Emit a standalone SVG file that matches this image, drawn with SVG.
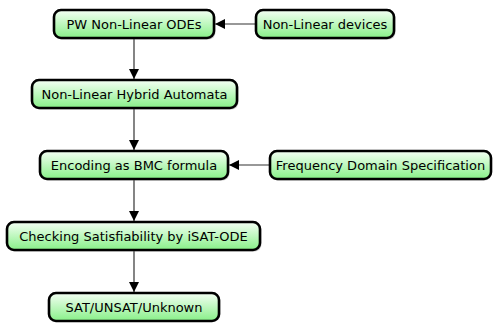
<svg xmlns="http://www.w3.org/2000/svg" width="494" height="323" viewBox="0 0 494 323">
<defs>
<linearGradient id="g" x1="0" y1="0" x2="0" y2="1">
<stop offset="0" stop-color="#f4fff4"/>
<stop offset="1" stop-color="#88f088"/>
</linearGradient>
<marker id="ah" viewBox="0 0 10 10" refX="10" refY="5" markerWidth="10" markerHeight="10" markerUnits="userSpaceOnUse" orient="auto">
<path d="M0,0 L10,5 L0,10 z" fill="#000"/>
</marker>
</defs>
<style>
.box{fill:url(#g);stroke:#000;stroke-width:2.6}
.sh{fill:#999;opacity:0.5}
.t{font-family:"DejaVu Sans",sans-serif;font-size:13px;fill:#000;text-anchor:middle;dominant-baseline:central}
.c{stroke:#333;stroke-width:1.2;fill:none;marker-end:url(#ah)}
</style>
<g id="connectors">
<line class="c" x1="256" y1="24" x2="215" y2="24"/>
<line class="c" x1="134" y1="38" x2="134" y2="79"/>
<line class="c" x1="134" y1="108" x2="134" y2="150"/>
<line class="c" x1="270" y1="165" x2="229" y2="165"/>
<line class="c" x1="134" y1="179" x2="134" y2="221"/>
<line class="c" x1="134" y1="250" x2="134" y2="292"/>
</g>
<g id="n1"><rect class="sh" x="55.5" y="11.5" width="160" height="28" rx="7"/><rect class="box" x="54" y="10" width="160" height="28" rx="7"/><text class="t" x="134" y="24">PW Non-Linear ODEs</text></g>
<g id="n2"><rect class="sh" x="257.5" y="11.5" width="138" height="28" rx="7"/><rect class="box" x="256" y="10" width="138" height="28" rx="7"/><text class="t" x="325" y="24">Non-Linear devices</text></g>
<g id="n3"><rect class="sh" x="33.5" y="81.5" width="205" height="28" rx="7"/><rect class="box" x="32" y="80" width="205" height="28" rx="7"/><text class="t" x="134.5" y="94">Non-Linear Hybrid Automata</text></g>
<g id="n4"><rect class="sh" x="41.5" y="152.5" width="188" height="28" rx="7"/><rect class="box" x="40" y="151" width="188" height="28" rx="7"/><text class="t" x="134" y="165">Encoding as BMC formula</text></g>
<g id="n5"><rect class="sh" x="271.5" y="152.5" width="220" height="28" rx="7"/><rect class="box" x="270" y="151" width="221" height="28" rx="7"/><text class="t" x="380.5" y="165">Frequency Domain Specification</text></g>
<g id="n6"><rect class="sh" x="8.5" y="223.5" width="253" height="28" rx="7"/><rect class="box" x="7" y="222" width="253" height="28" rx="7"/><text class="t" x="133.5" y="236">Checking Satisfiability by iSAT-ODE</text></g>
<g id="n7"><rect class="sh" x="50.5" y="294.5" width="170" height="27" rx="7"/><rect class="box" x="49" y="293" width="170" height="28" rx="7"/><text class="t" x="134" y="307">SAT/UNSAT/Unknown</text></g>
</svg>
